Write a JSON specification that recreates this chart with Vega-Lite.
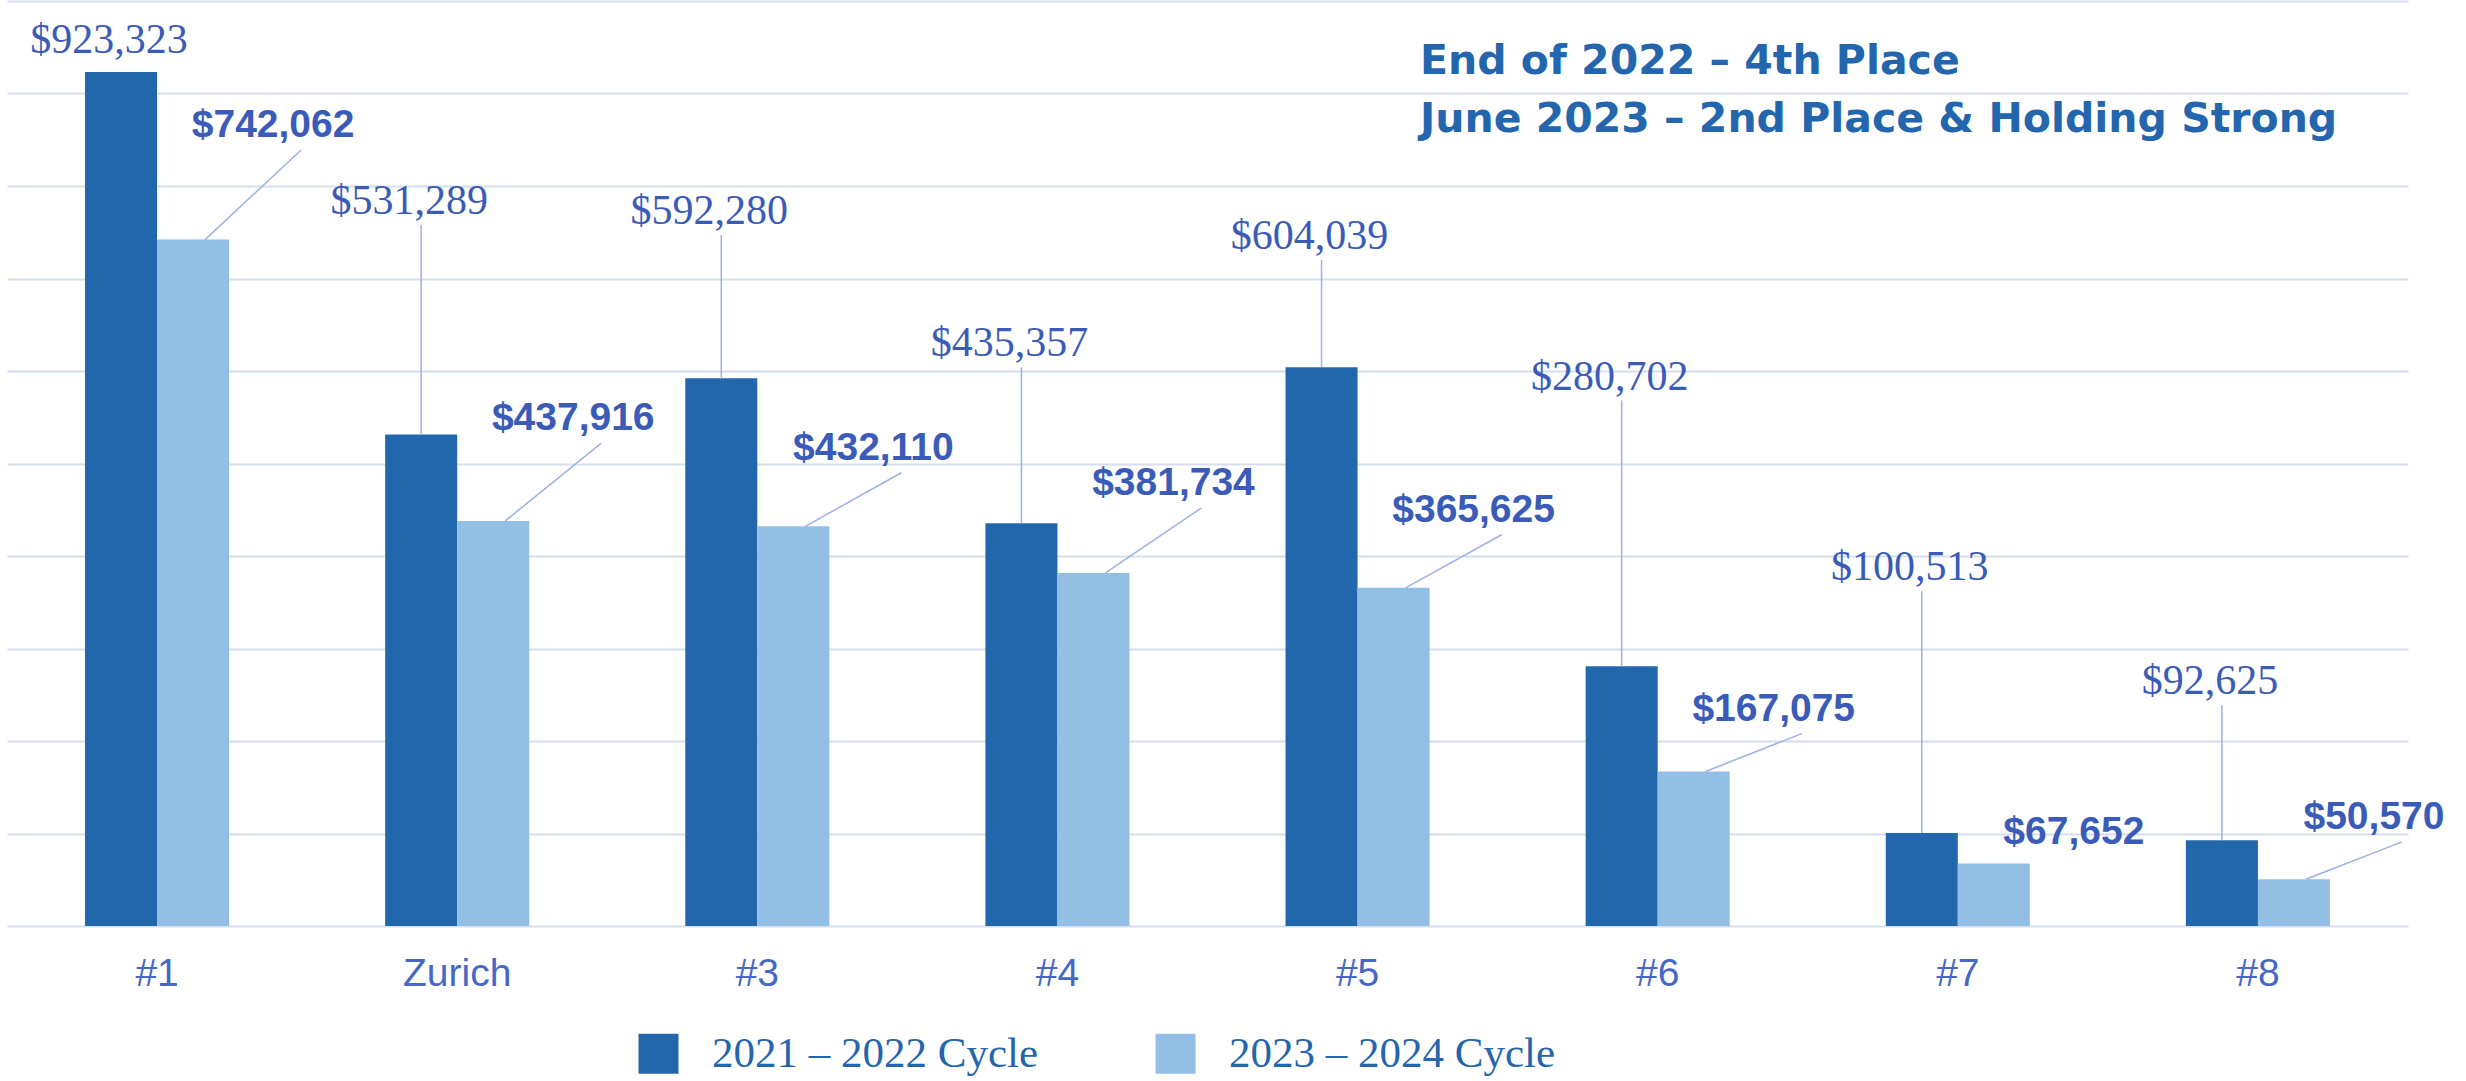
{
  "$schema": "https://vega.github.io/schema/vega-lite/v6.json",
  "autosize": {"type": "none"},
  "width": 2401,
  "height": 925,
  "padding": {"left": 7, "top": 1, "right": 58, "bottom": 155},
  "background": "white",
  "config": {"view": {"stroke": null}},
  "title": {
    "text": ["End of 2022 – 4th Place", "June 2023 – 2nd Place & Holding Strong"],
    "anchor": "start", "frame": "group", "orient": "top", "offset": 0,
    "dx": 1413, "dy": 172, "align": "left", "baseline": "alphabetic",
    "lineHeight": 58, "font": "DejaVu Sans", "fontSize": 41, "fontWeight": "bold", "color": "#2366AE"
  },
  "data": {
    "values": [
      {"cat": "#1", "series": "2021 – 2022 Cycle", "value": 923323, "label_y": 932000},
      {"cat": "#1", "series": "2023 – 2024 Cycle", "value": 742062, "label_y": 839000},
      {"cat": "Zurich", "series": "2021 – 2022 Cycle", "value": 531289, "label_y": 758000},
      {"cat": "Zurich", "series": "2023 – 2024 Cycle", "value": 437916, "label_y": 522000},
      {"cat": "#3", "series": "2021 – 2022 Cycle", "value": 592280, "label_y": 747000},
      {"cat": "#3", "series": "2023 – 2024 Cycle", "value": 432110, "label_y": 490000},
      {"cat": "#4", "series": "2021 – 2022 Cycle", "value": 435357, "label_y": 604000},
      {"cat": "#4", "series": "2023 – 2024 Cycle", "value": 381734, "label_y": 452000},
      {"cat": "#5", "series": "2021 – 2022 Cycle", "value": 604039, "label_y": 720000},
      {"cat": "#5", "series": "2023 – 2024 Cycle", "value": 365625, "label_y": 423000},
      {"cat": "#6", "series": "2021 – 2022 Cycle", "value": 280702, "label_y": 568000},
      {"cat": "#6", "series": "2023 – 2024 Cycle", "value": 167075, "label_y": 208000},
      {"cat": "#7", "series": "2021 – 2022 Cycle", "value": 100513, "label_y": 362000},
      {"cat": "#7", "series": "2023 – 2024 Cycle", "value": 67652, "label_y": 75000},
      {"cat": "#8", "series": "2021 – 2022 Cycle", "value": 92625, "label_y": 239000},
      {"cat": "#8", "series": "2023 – 2024 Cycle", "value": 50570, "label_y": 91000}
    ]
  },
  "encoding": {
    "x": {
      "field": "cat", "type": "nominal", "sort": null,
      "scale": {"paddingInner": 0.04, "paddingOuter": 0.02},
      "axis": {"title": null, "ticks": false, "domain": false, "labelAngle": 0, "grid": false,
        "labelFont": "Liberation Sans", "labelFontSize": 39, "labelColor": "#4667C6", "labelPadding": 28}
    }
  },
  "layer": [
    {
      "mark": {"type": "bar"},
      "encoding": {
        "xOffset": {"field": "series", "scale": {"domain": ["_l", "2021 – 2022 Cycle", "2023 – 2024 Cycle", "_r"], "paddingInner": 0, "paddingOuter": 0}},
        "y": {"field": "value", "type": "quantitative", "scale": {"domain": [0, 1000000], "nice": false},
          "axis": {"title": null, "labels": false, "ticks": false, "domain": false, "grid": true,
            "gridColor": "#D6DEF0", "gridWidth": 2,
            "values": [0, 100000, 200000, 300000, 400000, 500000, 600000, 700000, 800000, 900000, 1000000]}},
        "color": {"field": "series", "type": "nominal",
          "scale": {"domain": ["2021 – 2022 Cycle", "2023 – 2024 Cycle"], "range": ["#2266AC", "#92BFE3"]},
          "legend": {"orient": "none", "legendX": 630, "legendY": 1031, "direction": "horizontal", "title": null,
            "symbolType": "square", "symbolSize": 1600, "symbolStrokeWidth": 0,
            "labelFont": "Liberation Serif", "labelFontSize": 43, "labelColor": "#2366AE",
            "labelOffset": 32, "columnPadding": 115, "labelLimit": 1000}}
      }
    },
    {
      "transform": [{"filter": "datum.series == '2021 – 2022 Cycle' && datum.label_y - datum.value > 20000"}],
      "mark": {"type": "rule", "color": "#9DB1E2", "strokeWidth": 1.5},
      "encoding": {
        "xOffset": {"field": "series", "scale": {"domain": ["_l", "2021 – 2022 Cycle", "2023 – 2024 Cycle", "_r"], "paddingInner": 0, "paddingOuter": 0}},
        "y": {"field": "value", "type": "quantitative", "scale": {"domain": [0, 1000000], "nice": false}},
        "y2": {"field": "label_y"}
      }
    },
    {
      "transform": [
        {"filter": "datum.series == '2023 – 2024 Cycle' && datum.label_y - datum.value > 20000"},
        {"fold": ["value", "label_y"], "as": ["end", "amt"]}
      ],
      "mark": {"type": "line", "color": "#9DB1E2", "strokeWidth": 1.5},
      "encoding": {
        "xOffset": {"field": "end", "scale": {"domain": ["_a", "_b", "value", "label_y"], "paddingInner": 0, "paddingOuter": 0}},
        "y": {"field": "amt", "type": "quantitative", "scale": {"domain": [0, 1000000], "nice": false}},
        "detail": {"field": "cat"}
      }
    },
    {
      "transform": [{"filter": "datum.series == '2021 – 2022 Cycle'"}],
      "mark": {"type": "text", "font": "Liberation Serif", "fontSize": 42, "color": "#3B5BB8", "dy": -24, "baseline": "middle", "align": "center"},
      "encoding": {
        "xOffset": {"field": "series", "scale": {"domain": ["_l", "2021 – 2022 Cycle", "2023 – 2024 Cycle", "_r"], "paddingInner": 0, "paddingOuter": 0}},
        "y": {"field": "label_y", "type": "quantitative", "scale": {"domain": [0, 1000000], "nice": false}},
        "text": {"field": "value", "type": "quantitative", "format": "$,.0f"}
      }
    },
    {
      "transform": [{"filter": "datum.series == '2023 – 2024 Cycle'"}],
      "mark": {"type": "text", "font": "Liberation Sans", "fontWeight": "bold", "fontSize": 39, "color": "#3B5BB8", "dx": 68, "dy": -25, "baseline": "middle", "align": "center"},
      "encoding": {
        "xOffset": {"field": "series", "scale": {"domain": ["_l", "2021 – 2022 Cycle", "2023 – 2024 Cycle", "_r"], "paddingInner": 0, "paddingOuter": 0}},
        "y": {"field": "label_y", "type": "quantitative", "scale": {"domain": [0, 1000000], "nice": false}},
        "text": {"field": "value", "type": "quantitative", "format": "$,.0f"}
      }
    }
  ],
  "resolve": {"scale": {"xOffset": "independent"}}
}
